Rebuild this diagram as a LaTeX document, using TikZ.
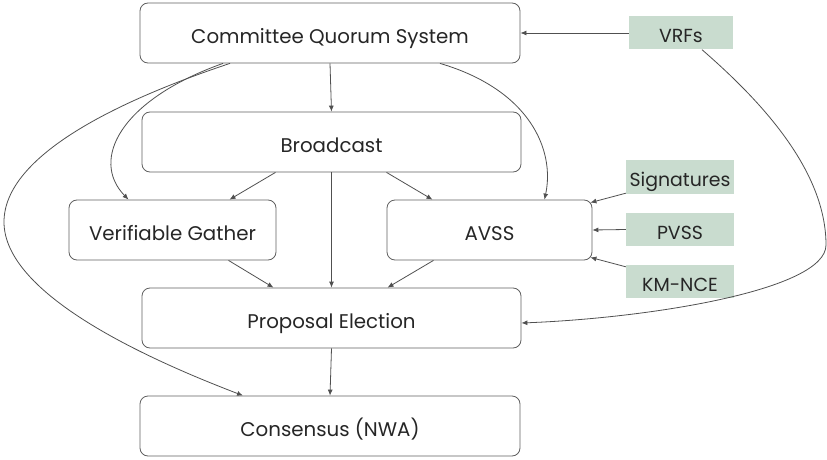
\documentclass[tikz,border=0pt]{standalone}
\usepackage{fontspec}
\setmainfont{Poppins}
\usetikzlibrary{arrows.meta}
\definecolor{greenbox}{RGB}{201,220,207}
\definecolor{linec}{RGB}{80,80,80}
\definecolor{borderc}{RGB}{95,95,95}
\tikzset{
  mainbox/.style={draw=borderc, line width=0.8pt, rounded corners=8pt, inner sep=0pt, text height=21pt, text depth=0pt, font=\fontsize{19.8}{22}\selectfont, text=black!85},
  primbox/.style={fill=greenbox, inner sep=0pt, text height=19.6pt, text depth=0pt, font=\fontsize{18.9}{21}\selectfont, text=black!85},
  arr/.style={draw=linec, line width=0.8pt, -{Latex[length=6pt,width=5pt]}},
}
\begin{document}
\begin{tikzpicture}[x=1pt,y=-1pt]
\useasboundingbox (0,0) rectangle (827,460);
\node[mainbox, minimum width=380pt, minimum height=60pt] (cqs) at (330,33) {Committee Quorum System};
\node[primbox, minimum width=104pt, minimum height=33pt] (vrf) at (681,33) {VRFs};
\node[mainbox, minimum width=379pt, minimum height=60pt] (bc) at (331.5,142) {Broadcast};
\node[mainbox, minimum width=207pt, minimum height=60pt] (vg) at (172.5,230) {Verifiable Gather};
\node[mainbox, minimum width=205pt, minimum height=60pt] (avss) at (489.5,230) {AVSS};
\node[primbox, minimum width=108pt, minimum height=34pt] (sig) at (680,177) {Signatures};
\node[primbox, minimum width=108pt, minimum height=33pt] (pvss) at (680,229.5) {PVSS};
\node[primbox, minimum width=108pt, minimum height=33pt] (km) at (680,281.5) {KM-NCE};
\node[mainbox, minimum width=379pt, minimum height=60pt] (pe) at (331.5,318) {Proposal Election};
\node[mainbox, minimum width=380pt, minimum height=60pt] (cons) at (330,426) {Consensus (NWA)};

\draw[arr] (cqs.south) -- (bc.north);
\draw[arr] (vrf.west) -- (cqs.east);
\draw[arr] ([xshift=-56pt]bc.south) -- ([xshift=57pt]vg.north);
\draw[arr] (bc.south) -- (pe.north);
\draw[arr] ([xshift=55pt]bc.south) -- ([xshift=-57pt]avss.north);
\draw[arr] ([xshift=56pt]vg.south) -- ([xshift=-58pt]pe.north);
\draw[arr] ([xshift=-56pt]avss.south) -- ([xshift=56pt]pe.north);
\draw[arr] (pe.south) -- (cons.north);
\draw[arr] ([yshift=1pt]sig.south west) -- ([xshift=-2pt,yshift=-3pt]avss.north east);
\draw[arr] (pvss.west) -- (avss.east);
\draw[arr] ([yshift=-2pt]km.north west) -- ([xshift=-2pt,yshift=3pt]avss.south east);

\draw[arr] ([xshift=21pt]vrf.south) .. controls (760,100) and (826,170) .. (826,245)
  .. controls (826,290) and (650,318) .. ([yshift=-5pt]pe.east);
\draw[arr] ([xshift=-100pt]cqs.south) .. controls (120,100) and (4,155) .. (4,222)
  .. controls (4,295) and (150,360) .. ([xshift=-87pt]cons.north);
\draw[arr] ([xshift=-107pt]cqs.south) .. controls (120,100) and (90,160) .. ([xshift=-44pt]vg.north);
\draw[arr] ([xshift=110pt]cqs.south) .. controls (530,90) and (555,150) .. ([xshift=55pt]avss.north);
\end{tikzpicture}
\end{document}
